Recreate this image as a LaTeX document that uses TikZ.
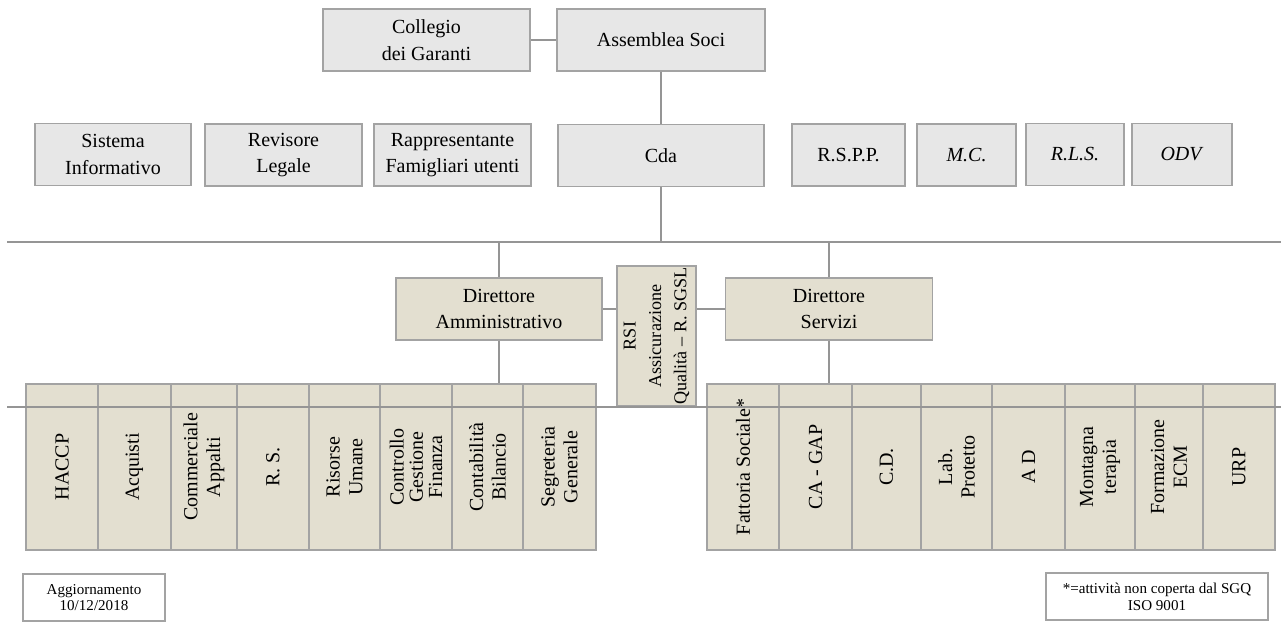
\documentclass[tikz,border=0pt]{standalone}
\usepackage{fontspec}
\setmainfont{Liberation Serif}
\definecolor{boxgray}{HTML}{E7E7E7}
\definecolor{boxtan}{HTML}{E3DFD0}
\definecolor{edgegray}{HTML}{A3A3A3}
\definecolor{linkgray}{HTML}{959595}
\begin{document}
\begin{tikzpicture}[x=0.75pt, y=-0.75pt,
        block/.style={draw=edgegray, line width=0.9pt, align=center, inner sep=0pt, font=\fontsize{15}{20}\selectfont},
        graybox/.style={block, fill=boxgray, minimum height=46.5pt},
        tanbox/.style={block, fill=boxtan},
        unitbox/.style={tanbox, rotate=90, minimum width=124.5pt, font=\fontsize{15}{17}\selectfont},
        notebox/.style={draw=edgegray, line width=0.8pt, fill=white, align=center, inner sep=0pt, minimum height=35.25pt, font=\fontsize{11.3}{12.5}\selectfont},
        link/.style={draw=linkgray, line width=0.9pt}]
                \useasboundingbox (0,0) rectangle (1281,622);
                % governance
                \node[graybox, minimum width=155.25pt] (Collegio) at (426.5,40) {Collegio\\dei Garanti};
                \node[graybox, minimum width=156pt] (Assemblea) at (661,40) {Assemblea Soci};
                \node[graybox, minimum width=154.5pt] (Cda) at (661,155.5) {Cda};
                \node[graybox, minimum width=117pt] (Sistema) at (113,154.5) {Sistema\\Informativo};
                \node[graybox, minimum width=117.75pt] (Revisore) at (283.5,155) {Revisore\\Legale};
                \node[graybox, minimum width=117.75pt] (Rappr) at (452.5,155) {Rappresentante\\Famigliari utenti};
                \node[graybox, minimum width=84.75pt] (RSPP) at (848.5,155) {R.S.P.P.};
                \node[graybox, minimum width=74.25pt] (MC) at (966.5,155) {\textit{M.C.}};
                \node[graybox, minimum width=73.5pt] (RLS) at (1075,154.5) {\textit{R.L.S.}};
                \node[graybox, minimum width=75pt] (ODV) at (1182,154.5) {\textit{ODV}};
                % direzione
                \node[tanbox, minimum width=154.5pt, minimum height=46.5pt] (DirAmm) at (499,309) {Direttore\\Amministrativo};
                \node[tanbox, rotate=90, minimum width=105pt, minimum height=59.25pt, font=\fontsize{13.6}{19}\selectfont] (RSI) at (656.5,336) {RSI\\Assicurazione\\Qualità -- R. SGSL};
                \node[tanbox, minimum width=155.25pt, minimum height=46.5pt] (DirServ) at (829,309) {Direttore\\Servizi};
                % aree amministrative
                \node[unitbox, minimum height=54pt] (HACCP) at (62,467) {HACCP};
                \node[unitbox, minimum height=54.75pt] (Acquisti) at (134.5,467) {Acquisti};
                \node[unitbox, minimum height=49.5pt] (Commerciale) at (204,467) {Commerciale\\Appalti};
                \node[unitbox, minimum height=54pt] (RS) at (273,467) {R. S.};
                \node[unitbox, minimum height=53.25pt] (Risorse) at (344.5,467) {Risorse\\Umane};
                \node[unitbox, minimum height=54pt, font=\fontsize{15}{14.5}\selectfont] (Controllo) at (416,467) {Controllo\\Gestione\\Finanza};
                \node[unitbox, minimum height=53.25pt] (Contab) at (487.5,467) {Contabilità\\Bilancio};
                \node[unitbox, minimum height=54.75pt] (Segreteria) at (559.5,467) {Segreteria\\Generale};
                % aree servizi
                \node[unitbox, minimum height=54pt] (Fattoria) at (743,467) {Fattoria Sociale*};
                \node[unitbox, minimum height=54.75pt] (CAGAP) at (815.5,467) {CA - GAP};
                \node[unitbox, minimum height=51.75pt] (CD) at (886.5,467) {C.D.};
                \node[unitbox, minimum height=53.25pt] (Lab) at (956.5,467) {Lab.\\Protetto};
                \node[unitbox, minimum height=54.75pt] (AD) at (1028.5,467) {A D};
                \node[unitbox, minimum height=52.5pt] (Montagna) at (1100,467) {Montagna\\terapia};
                \node[unitbox, minimum height=51pt] (Formazione) at (1169,467) {Formazione\\ECM};
                \node[unitbox, minimum height=54pt] (URP) at (1239,467) {URP};
                % note
                \node[notebox, minimum width=106.5pt] (Aggiorn) at (94,597.5) {Aggiornamento\\10/12/2018};
                \node[notebox, minimum width=166.5pt] (NotaSGQ) at (1157,596.5) {*=attività non coperta dal SGQ\\ISO 9001};
                % collegamenti
                \coordinate (topL) at (7,242);
                \coordinate (topR) at (1281,242);
                \coordinate (lowL) at (7,407);
                \coordinate (lowR) at (1281,407);
                \path[link] (Collegio) -- (Assemblea);
                \path[link] (Assemblea) -- (Cda);
                \path[link] (topL) -- (topR);
                \path[link] (Cda.south) -- (Cda.south |- topL);
                \path[link] (DirAmm.north |- topL) -- (DirAmm.north);
                \path[link] (DirServ.north |- topL) -- (DirServ.north);
                \path[link] (DirAmm.east) -- (DirAmm.east -| RSI.north);
                \path[link] (DirServ.west) -- (DirServ.west -| RSI.south);
                \path[link] (DirAmm.south) -- (DirAmm.south |- Contab.east);
                \path[link] (DirServ.south) -- (DirServ.south |- CAGAP.east);
                \path[link] (lowL) -- (lowR);
\end{tikzpicture}
\end{document}
